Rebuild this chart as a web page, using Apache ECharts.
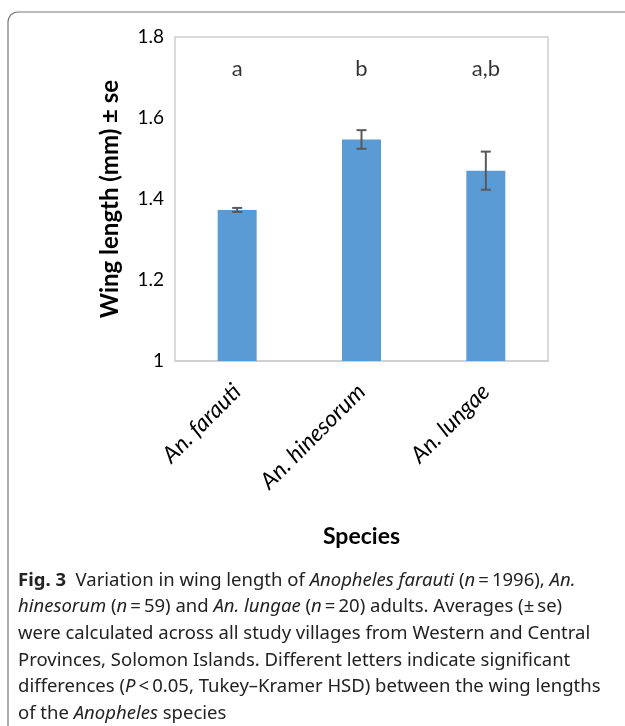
<!DOCTYPE html>
<html>
<head>
<meta charset="utf-8">
<script src="https://cdn.jsdelivr.net/npm/echarts@6/dist/echarts.min.js"></script>
<style>
  html, body { margin: 0; padding: 0; background: #fff; }
  #chart { width: 625px; height: 726px; }
</style>
</head>
<body>
<div id="chart"></div>
<script>
// data
const species = ['An. farauti', 'An. hinesorum', 'An. lungae']
const wingMean = [1.373, 1.547, 1.470]
const wingSe = [0.005, 0.023, 0.047]
const sigLetters = ['a', 'b', 'a,b']
const letterLevel = [1.72, 1.72, 1.72]
const yTicks = [1, 1.2, 1.4, 1.6, 1.8]

const chart = echarts.init(document.getElementById('chart'))

// error bar data: [index, low, high]
const errData = wingMean.map((m, i) => [i, m - wingSe[i], m + wingSe[i]])

const chartFont = 'Lato'
const capFont = 'Noto Sans'
const capSize = 18.5

// caption lines (rich text for italics / bold)
const captionLines = [
  '{b|Fig. 3}  Variation in wing length of {i|Anopheles farauti} ({i|n}\u2009=\u20091996), {i|An.}',
  '{i|hinesorum} ({i|n}\u2009=\u200959) and {i|An. lungae} ({i|n}\u2009=\u200920) adults. Averages (\u00b1\u2009se)',
  'were calculated across all study villages from Western and Central',
  'Provinces, Solomon Islands. Different letters indicate significant',
  'differences ({i|P}\u2009<\u20090.05, Tukey\u2013Kramer HSD) between the wing lengths',
  'of the {i|Anopheles} species'
]

const option = {
  animation: false,
  backgroundColor: '#fff',
  grid: {
    left: 175,
    top: 37,
    width: 373,
    height: 324,
    show: true,
    borderColor: '#d0d0d0',
    borderWidth: 1.5
  },
  xAxis: {
    type: 'category',
    data: species,
    axisLine: { show: true, lineStyle: { color: '#d0d0d0', width: 2 } },
    axisTick: { show: false },
    axisLabel: {
      rotate: 45,
      margin: 27,
      fontFamily: chartFont,
      fontStyle: 'italic',
      fontSize: 23,
      color: '#000'
    },
    name: 'Species',
    nameLocation: 'middle',
    nameGap: 164,
    nameTextStyle: { fontFamily: chartFont, fontWeight: 'bold', fontSize: 23, color: '#000' }
  },
  yAxis: {
    type: 'value',
    min: 1,
    max: 1.8,
    interval: 0.2,
    splitLine: { show: false },
    axisLine: { show: false },
    axisTick: { show: false },
    axisLabel: {
      margin: 11,
      fontFamily: chartFont,
      fontSize: 19,
      color: '#000',
      formatter: v => {
        const t = yTicks.find(x => Math.abs(x - v) < 1e-6)
        return t === undefined ? '' : String(t)
      }
    },
    name: 'Wing length (mm) \u00b1 se',
    nameLocation: 'middle',
    nameRotate: 90,
    nameGap: 53,
    nameTextStyle: { fontFamily: chartFont, fontWeight: 'bold', fontSize: 24, color: '#000' }
  },
  series: [
    {
      type: 'bar',
      data: wingMean,
      barWidth: 39,
      itemStyle: { color: '#5b9bd5' }
    },
    {
      type: 'custom',
      data: errData,
      z: 10,
      renderItem: (params, api) => {
        const lo = api.coord([api.value(0), api.value(1)])
        const hi = api.coord([api.value(0), api.value(2)])
        const half = 5
        const style = { stroke: '#595959', lineWidth: 2 }
        return {
          type: 'group',
          children: [
            { type: 'line', shape: { x1: lo[0], y1: lo[1], x2: hi[0], y2: hi[1] }, style },
            { type: 'line', shape: { x1: lo[0] - half, y1: lo[1], x2: lo[0] + half, y2: lo[1] }, style },
            { type: 'line', shape: { x1: hi[0] - half, y1: hi[1], x2: hi[0] + half, y2: hi[1] }, style }
          ]
        }
      }
    },
    {
      type: 'scatter',
      data: letterLevel.map((v, i) => [i, v]),
      symbolSize: 0,
      silent: true,
      label: {
        show: true,
        position: 'inside',
        formatter: p => sigLetters[p.dataIndex],
        fontFamily: chartFont,
        fontSize: 22,
        color: '#000'
      }
    }
  ],
  graphic: [
    {
      type: 'rect',
      shape: { x: 8, y: 12, width: 700, height: 800, r: 10 },
      style: { fill: 'none', stroke: '#777', lineWidth: 1.2 },
      silent: true
    },
    {
      type: 'group',
      left: 18,
      top: 571,
      children: captionLines.map((line, i) => ({
        type: 'text',
        x: 0,
        y: i * 26.6,
        style: {
          text: line,
          fontFamily: capFont,
          fontSize: capSize,
          fill: '#222',
          rich: {
            b: { fontFamily: capFont, fontSize: capSize, fontWeight: 'bold', fill: '#222' },
            i: { fontFamily: capFont, fontSize: capSize, fontStyle: 'italic', fill: '#222' }
          }
        }
      }))
    }
  ]
}

chart.setOption(option)
</script>
</body>
</html>
